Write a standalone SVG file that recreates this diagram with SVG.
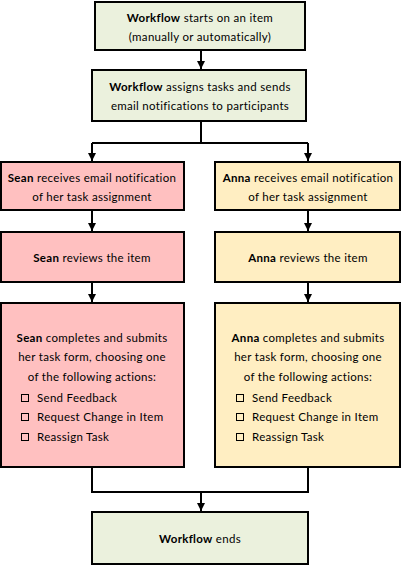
<svg xmlns="http://www.w3.org/2000/svg" width="402" height="566" viewBox="0 0 402 566">
<defs>
<marker id="ah" viewBox="0 0 10 10" refX="10" refY="5" markerWidth="8" markerHeight="8" markerUnits="userSpaceOnUse" orient="auto">
<path d="M0,0 L10,5 L0,10 z" fill="#000"/>
</marker>
</defs>
<style>
.box{stroke:#000;stroke-width:2}
.g{fill:#ebf1dd}
.p{fill:#ffc0c0}
.y{fill:#ffeec2}
text{font-family:Lato,"Liberation Sans",sans-serif;font-size:11.5px;letter-spacing:0.3px;fill:#000}
.c{text-anchor:middle}
.b{font-weight:bold}
.cb{fill:none;stroke:#000;stroke-width:1}
.ln{fill:none;stroke:#000;stroke-width:2}
</style>
<rect width="402" height="566" fill="#fff"/>
<g id="connectors">
<path class="ln" d="M201,50 V69" marker-end="url(#ah)"/>
<path class="ln" d="M201,121 V143 M92,143 H308"/>
<path class="ln" d="M92,143 V161" marker-end="url(#ah)"/>
<path class="ln" d="M308,143 V161" marker-end="url(#ah)"/>
<path class="ln" d="M92,210 V231" marker-end="url(#ah)"/>
<path class="ln" d="M308,210 V231" marker-end="url(#ah)"/>
<path class="ln" d="M92,282 V302" marker-end="url(#ah)"/>
<path class="ln" d="M308,282 V302" marker-end="url(#ah)"/>
<path class="ln" d="M92,467 V492 H308 V467"/>
<path class="ln" d="M201,492 V511" marker-end="url(#ah)"/>
</g>
<g id="start">
<rect class="box g" x="95" y="2" width="210" height="48"/>
<text class="c" x="200" y="22"><tspan class="b">Workflow</tspan> starts on an item</text>
<text class="c" x="200" y="41">(manually or automatically)</text>
</g>
<g id="assign">
<rect class="box g" x="92" y="70" width="214" height="51"/>
<text class="c" x="200" y="91"><tspan class="b">Workflow</tspan> assigns tasks and sends</text>
<text class="c" x="200" y="110">email notifications to participants</text>
</g>
<g id="sean-notif">
<rect class="box p" x="1" y="162" width="183" height="48"/>
<text class="c" x="92" y="182"><tspan class="b">Sean</tspan> receives email notification</text>
<text class="c" x="92" y="201">of her task assignment</text>
</g>
<g id="anna-notif">
<rect class="box y" x="215" y="162" width="185" height="48"/>
<text class="c" x="308" y="182"><tspan class="b">Anna</tspan> receives email notification</text>
<text class="c" x="308" y="201">of her task assignment</text>
</g>
<g id="sean-review">
<rect class="box p" x="1" y="232" width="183" height="50"/>
<text class="c" x="92" y="262"><tspan class="b">Sean</tspan> reviews the item</text>
</g>
<g id="anna-review">
<rect class="box y" x="215" y="232" width="185" height="50"/>
<text class="c" x="308" y="262"><tspan class="b">Anna</tspan> reviews the item</text>
</g>
<g id="sean-complete">
<rect class="box p" x="1" y="303" width="183" height="164"/>
<text class="c" x="92" y="342"><tspan class="b">Sean</tspan> completes and submits</text>
<text class="c" x="92" y="361">her task form, choosing one</text>
<text class="c" x="92" y="381">of the following actions:</text>
<rect class="cb" x="21.5" y="394.5" width="7" height="7"/>
<text x="37" y="402">Send Feedback</text>
<rect class="cb" x="21.5" y="413.5" width="7" height="7"/>
<text x="37" y="421">Request Change in Item</text>
<rect class="cb" x="21.5" y="433.5" width="7" height="7"/>
<text x="37" y="441">Reassign Task</text>
</g>
<g id="anna-complete">
<rect class="box y" x="215" y="303" width="185" height="164"/>
<text class="c" x="308" y="342"><tspan class="b">Anna</tspan> completes and submits</text>
<text class="c" x="308" y="361">her task form, choosing one</text>
<text class="c" x="308" y="381">of the following actions:</text>
<rect class="cb" x="236.5" y="394.5" width="7" height="7"/>
<text x="252" y="402">Send Feedback</text>
<rect class="cb" x="236.5" y="413.5" width="7" height="7"/>
<text x="252" y="421">Request Change in Item</text>
<rect class="cb" x="236.5" y="433.5" width="7" height="7"/>
<text x="252" y="441">Reassign Task</text>
</g>
<g id="end">
<rect class="box g" x="92" y="512" width="216" height="52"/>
<text class="c" x="200" y="543"><tspan class="b">Workflow</tspan> ends</text>
</g>
</svg>
